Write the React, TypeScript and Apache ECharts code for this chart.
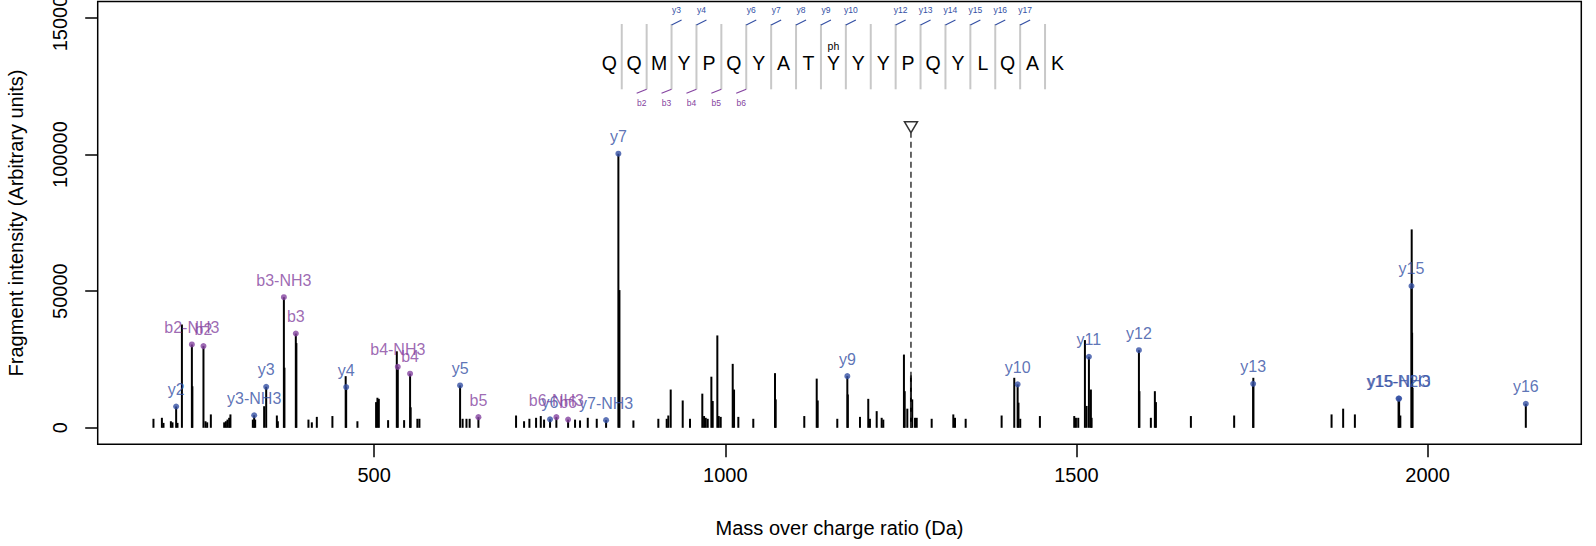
import React, { useEffect, useRef } from "react";
import * as echarts from "echarts";

// ---------- data ----------
const peakMz = [
  185.8, 197.8, 200.1, 210.6, 212.9, 220.0, 226.3, 241.2, 259.9, 262.3, 267.5,
  286.5, 288.9, 291.2, 293.6, 295.4, 327.3, 330.6, 343.4, 361.5, 362.9, 372.3,
  389.3, 406.5, 411.3, 418.4, 440.6, 459.5, 476.2, 502.8, 504.7, 506.7, 519.9,
  532.3, 542.7, 552.0, 561.6, 564.5, 626.0, 631.5, 636.0, 702.1, 713.5, 721.1,
  730.6, 737.3, 742.0, 786.1, 793.2, 804.2, 817.0, 849.3, 869.2, 904.7, 916.6,
  918.9, 922.3, 939.4, 949.8, 967.3, 969.8, 972.2, 975.0, 980.2, 982.1, 988.7,
  990.7, 993.5, 1010.6, 1012.5, 1018.6, 1039.9, 1070.8, 1071.8, 1112.5, 1130.2,
  1131.6, 1159.5, 1174.5, 1191.8, 1203.6, 1206.0, 1215.6, 1222.7, 1225.0, 1254.4,
  1255.5, 1259.2, 1264.4, 1266.2, 1270.2, 1272.6, 1293.9, 1324.7, 1327.1, 1342.3,
  1393.5, 1411.5, 1417.5, 1420.0, 1448.0, 1496.9, 1499.3, 1502.6, 1512.1, 1514.5,
  1520.6, 1521.6, 1589.7, 1606.0, 1611.7, 1613.2, 1663.0, 1724.6, 1751.9, 1863.3,
  1879.8, 1896.5, 1961.2, 1977.4, 1978.0, 1978.6,
];
const peakInt = [
  3300, 3660, 1800, 2400, 2000, 1800, 37800, 15200, 2400, 2000, 4900,
  2000, 2400, 3000, 3660, 4900, 3000, 3000, 7900, 4500, 2400, 22000,
  31000, 3000, 2000, 4000, 4300, 18900, 2400, 9400, 11000, 10600, 2800,
  28000, 2800, 7500, 3300, 3300, 3300, 3300, 3300, 4500, 2400, 3300,
  3660, 4300, 3000, 3000, 2700, 3660, 3300, 50400, 2700, 3300, 3300,
  4500, 14000, 10000, 3300, 12500, 4300, 3660, 3300, 18700, 9800, 33800,
  4300, 4000, 23400, 14000, 4000, 3300, 20000, 10400, 4300, 18000,
  10000, 3300, 12200, 4000, 10600, 3300, 6100, 3660, 3000, 26800,
  13400, 7000, 19200, 10400, 3660, 3660, 3300, 4900, 3660, 3300,
  4500, 18300, 9200, 3300, 4300, 4300, 3660, 3660, 32100, 8000,
  14000, 3660, 13400, 3660, 13400, 9400, 4300, 4500, 18300, 4900,
  7000, 4900, 4500, 72600, 34800, 14600,
];

const ionLabel = [
  "y2", "b2-NH3", "b2", "y3-NH3", "y3", "b3-NH3", "b3", "y4", "b4-NH3", "b4",
  "y5", "b5", "y6", "b6-NH3", "b6", "y7-NH3", "y7", "y9", "y10", "y11", "y12",
  "y13", "y15-NH3", "y15-H2O", "y15", "y16",
];
const ionType = [
  "y", "b", "b", "y", "y", "b", "b", "y", "b", "b",
  "y", "b", "y", "b", "b", "y", "y", "y", "y", "y", "y",
  "y", "y", "y", "y", "y",
];
const ionMz = [
  218.1, 240.5, 257.0, 329.2, 346.3, 371.5, 388.5, 460.2, 533.7, 551.2,
  622.4, 648.5, 750.5, 759.5, 776.2, 830.3, 847.8, 1173.8, 1416.3, 1517.8, 1589.0,
  1751.7, 1959.5, 1958.7, 1977.1, 2139.9,
];
const ionInt = [
  7800, 30500, 29900, 4600, 15000, 47800, 34500, 14900, 22300, 19800,
  15500, 3900, 3100, 3900, 3000, 2800, 100300, 18900, 15900, 26000, 28400,
  16100, 10700, 10700, 51900, 8800,
];

const xTicks = [500, 1000, 1500, 2000];
const yTicks = [0, 50000, 100000, 150000];

const sequence = ["Q", "Q", "M", "Y", "P", "Q", "Y", "A", "T", "Y", "Y", "Y", "P", "Q", "Y", "L", "Q", "A", "K"];
const yFragSites = [2, 3, 5, 6, 7, 8, 9, 11, 12, 13, 14, 15, 16];
const yFragLabels = ["y3", "y4", "y6", "y7", "y8", "y9", "y10", "y12", "y13", "y14", "y15", "y16", "y17"];
const bFragSites = [1, 2, 3, 4, 5];
const bFragLabels = ["b2", "b3", "b4", "b5", "b6"];
const modSite = 9;
const modLabel = "ph";

const precursorMz = 1264.4;
const precursorMark = 110000;
const precursorLineTop = 107800;

// ---------- styles ----------
const FONT = "'Liberation Sans', Arial, Helvetica, sans-serif";
const Y_COLOR = "#3450A4";
const B_COLOR = "#8544A0";

export default function App() {
  const ref = useRef<HTMLDivElement>(null);

  useEffect(() => {
    document.body.style.margin = "0";
    if (!ref.current) return;
    const chart = echarts.init(ref.current, undefined, { renderer: "svg" });

    const allPeaks: number[][] = [];
    peakMz.forEach((m, i) => allPeaks.push([m, peakInt[i]]));
    ionMz.forEach((m, i) => allPeaks.push([m, ionInt[i]]));

    const ionData = (t: string) =>
      ionMz
        .map((m, i) => ({ name: ionLabel[i], value: [m, ionInt[i]], t: ionType[i] }))
        .filter((d) => d.t === t)
        .map((d) => ({ name: d.name, value: d.value }));

    // peptide annotation (layout)
    const letterX0 = 609.3;
    const step = 24.9;
    const letterY = 62.7;
    const sepTop = 24;
    const sepBottom = 89.3;
    const g: any[] = [];
    sequence.forEach((aa, i) => {
      g.push({
        type: "text",
        x: letterX0 + i * step,
        y: letterY,
        style: { text: aa, font: `19.5px ${FONT}`, fill: "#000", align: "center", verticalAlign: "middle" },
      });
    });
    for (let i = 0; i < sequence.length - 1; i++) {
      const sx = letterX0 + (i + 0.5) * step;
      g.push({
        type: "line",
        shape: { x1: sx, y1: sepTop, x2: sx, y2: sepBottom },
        style: { stroke: "#c8c8c8", lineWidth: 2 },
      });
    }
    yFragSites.forEach((s, k) => {
      const sx = letterX0 + (s + 0.5) * step;
      g.push({
        type: "line",
        shape: { x1: sx, y1: sepTop + 1, x2: sx + 10, y2: sepTop - 4 },
        style: { stroke: Y_COLOR, lineWidth: 1.2 },
      });
      g.push({
        type: "text",
        x: sx + 5,
        y: 9.5,
        style: { text: yFragLabels[k], font: `8.5px ${FONT}`, fill: Y_COLOR, align: "center", verticalAlign: "middle" },
      });
    });
    bFragSites.forEach((s, k) => {
      const sx = letterX0 + (s + 0.5) * step;
      g.push({
        type: "line",
        shape: { x1: sx - 10, y1: sepBottom + 4, x2: sx, y2: sepBottom },
        style: { stroke: B_COLOR, lineWidth: 1.2 },
      });
      g.push({
        type: "text",
        x: sx - 5,
        y: 103.3,
        style: { text: bFragLabels[k], font: `8.5px ${FONT}`, fill: B_COLOR, align: "center", verticalAlign: "middle" },
      });
    });
    g.push({
      type: "text",
      x: letterX0 + modSite * step,
      y: 45.7,
      style: { text: modLabel, font: `10.5px ${FONT}`, fill: "#000", align: "center", verticalAlign: "middle" },
    });
    // axis titles
    g.push({
      type: "text",
      x: 839.5,
      y: 528,
      style: { text: "Mass over charge ratio (Da)", font: `20px ${FONT}`, fill: "#000", align: "center", verticalAlign: "middle" },
    });
    g.push({
      type: "text",
      x: 16,
      y: 223,
      rotation: Math.PI / 2,
      style: { text: "Fragment intensity (Arbitrary units)", font: `20px ${FONT}`, fill: "#000", align: "center", verticalAlign: "middle" },
    });

    const ionSeries = (t: string, color: string) => ({
      type: "scatter",
      data: ionData(t),
      symbol: "circle",
      symbolSize: 6,
      itemStyle: { color },
      z: 5,
      label: {
        show: true,
        position: "top",
        distance: 6,
        formatter: "{b}",
        color,
        fontSize: 16,
        fontFamily: FONT,
      },
      labelLayout: { hideOverlap: false },
    });

    chart.setOption({
      animation: false,
      backgroundColor: "#fff",
      grid: {
        left: 97.7,
        right: 1596 - 1581.3,
        top: 1.5,
        bottom: 546 - 444.2,
        show: true,
        borderColor: "#000",
        borderWidth: 1.5,
        backgroundColor: "transparent",
        containLabel: false,
        outerBoundsMode: "none",
      },
      xAxis: {
        type: "value",
        min: 106.4,
        max: 2218.9,
        splitLine: { show: false },
        axisLine: { show: false, onZero: false },
        axisTick: { show: true, inside: false, length: 13, customValues: xTicks, lineStyle: { color: "#000", width: 1.5 } },
        axisLabel: {
          show: true,
          customValues: xTicks,
          margin: 21,
          color: "#000",
          fontSize: 20,
          fontFamily: FONT,
          formatter: (v: number) => String(v),
        },
      },
      yAxis: {
        type: "value",
        min: -6000,
        max: 156000,
        splitLine: { show: false },
        axisLine: { show: false, onZero: false },
        axisTick: { show: true, inside: false, length: 12.5, customValues: yTicks, lineStyle: { color: "#000", width: 1.5 } },
        axisLabel: {
          show: true,
          customValues: yTicks,
          rotate: 90,
          align: "center",
          verticalAlign: "middle",
          margin: 37.5,
          color: "#000",
          fontSize: 20,
          fontFamily: FONT,
          formatter: (v: number) => String(v),
        },
      },
      series: [
        {
          type: "custom",
          data: allPeaks,
          encode: { x: 0, y: 1 },
          z: 3,
          renderItem: (_params: any, api: any) => {
            const top = api.coord([api.value(0), api.value(1)]);
            const base = api.coord([api.value(0), 0]);
            return {
              type: "line",
              shape: { x1: top[0], y1: top[1], x2: base[0], y2: base[1] },
              style: { stroke: "#000", lineWidth: 2 },
            };
          },
        },
        {
          type: "line",
          data: [
            [precursorMz, 0],
            [precursorMz, precursorLineTop],
          ],
          symbol: "none",
          lineStyle: { color: "#333", width: 1.5, type: [6, 4] },
          z: 4,
        },
        {
          type: "scatter",
          data: [[precursorMz, precursorMark]],
          symbol: "triangle",
          symbolRotate: 180,
          symbolSize: [13, 11],
          itemStyle: { color: "#fff", borderColor: "#000", borderWidth: 1.5 },
          z: 6,
        },
        ionSeries("y", Y_COLOR),
        ionSeries("b", B_COLOR),
      ],
      graphic: { elements: g },
    });

    return () => chart.dispose();
  }, []);

  return (
    <div
      ref={ref}
      style={{ position: "absolute", left: 0, top: 0, width: 1596, height: 546 }}
    />
  );
}
